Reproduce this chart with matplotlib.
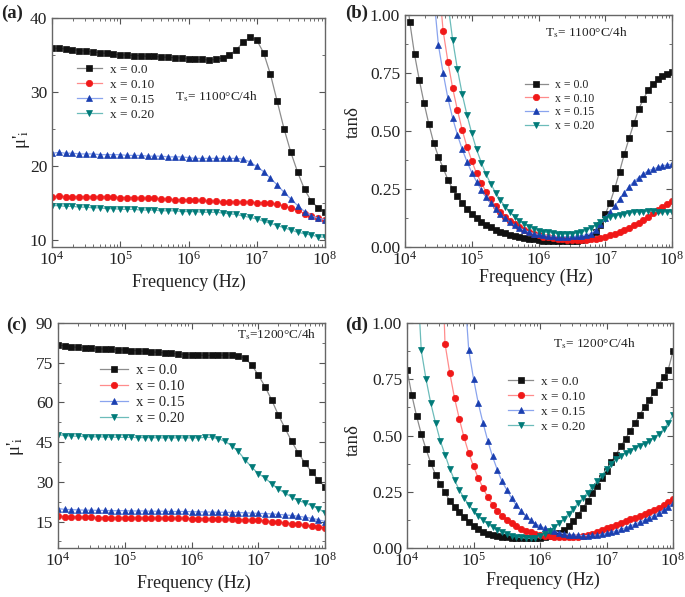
import numpy as np
import matplotlib
matplotlib.use("Agg")
import matplotlib.pyplot as plt
from matplotlib.ticker import AutoMinorLocator, LogLocator, NullFormatter

plt.rcParams['font.family'] = ['Liberation Serif', 'DejaVu Serif']
plt.rcParams['mathtext.fontset'] = 'stix'

# frequency sweeps (Hz): 10 points/decade for mu', 14 points/decade for tan(delta)
freq_mu = np.logspace(4, 8, 41)
freq_tan = np.logspace(4, 8, 57)

labels = ["x = 0.0", "x = 0.10", "x = 0.15", "x = 0.20"]

# (a) mu'_i, Ts = 1100 C / 4h
mu_1100_x00 = [35.9, 35.9, 35.8, 35.7, 35.6, 35.5, 35.4, 35.3, 35.2, 35.1,
               35.0, 35.0, 34.9, 34.9, 34.8, 34.8, 34.7, 34.7, 34.6, 34.6,
               34.5, 34.4, 34.4, 34.3, 34.4, 34.6, 35.0, 35.7, 36.7, 37.4,
               37.0, 35.3, 32.4, 28.7, 25.0, 21.8, 19.1, 16.8, 15.2, 14.3, 13.8]
mu_1100_x10 = [15.8, 15.9, 15.8, 15.8, 15.8, 15.8, 15.8, 15.8, 15.8, 15.8,
               15.7, 15.7, 15.7, 15.6, 15.6, 15.6, 15.5, 15.5, 15.4, 15.4,
               15.4, 15.3, 15.3, 15.2, 15.2, 15.1, 15.1, 15.1, 15.1, 15.1,
               15.0, 15.0, 14.9, 14.8, 14.6, 14.3, 14.0, 13.5, 13.2, 12.9, 12.7]
mu_1100_x15 = [21.7, 21.8, 21.7, 21.7, 21.6, 21.6, 21.6, 21.5, 21.5, 21.5,
               21.5, 21.4, 21.4, 21.4, 21.3, 21.3, 21.3, 21.2, 21.2, 21.2,
               21.1, 21.0, 21.0, 21.0, 21.0, 21.0, 21.0, 21.0, 20.9, 20.5,
               19.9, 19.2, 18.3, 17.4, 16.4, 15.5, 14.6, 13.8, 13.2, 12.9, 12.7]
mu_1100_x20 = [14.6, 14.6, 14.5, 14.5, 14.4, 14.4, 14.3, 14.3, 14.2, 14.2,
               14.1, 14.1, 14.1, 14.0, 14.0, 14.0, 13.9, 13.9, 13.9, 13.8,
               13.8, 13.8, 13.7, 13.7, 13.7, 13.6, 13.5, 13.4, 13.2, 13.0,
               12.8, 12.5, 12.2, 11.9, 11.6, 11.3, 11.0, 10.8, 10.6, 10.4, 10.3]

# (c) mu'_i, Ts = 1200 C / 4h
mu_1200_x00 = [81.8, 81.3, 81.0, 80.8, 80.6, 80.4, 80.3, 80.1, 80.0, 79.9,
               79.8, 79.6, 79.5, 79.3, 79.1, 78.9, 78.7, 78.5, 78.3, 78.1,
               78.0, 77.9, 77.8, 77.8, 77.8, 77.9, 77.9, 77.6, 76.7, 74.2,
               70.4, 66.0, 61.0, 55.3, 50.3, 45.3, 40.9, 37.1, 33.7, 30.8, 28.0]
mu_1200_x10 = [17.2, 16.9, 16.8, 16.7, 16.6, 16.6, 16.5, 16.5, 16.5, 16.4,
               16.4, 16.4, 16.4, 16.3, 16.3, 16.3, 16.3, 16.2, 16.2, 16.2,
               16.1, 16.1, 16.0, 16.0, 15.9, 15.9, 15.8, 15.7, 15.6, 15.5,
               15.4, 15.2, 15.0, 14.8, 14.5, 14.2, 13.9, 13.6, 13.3, 13.0, 12.6]
mu_1200_x15 = [19.9, 19.6, 19.5, 19.4, 19.3, 19.3, 19.2, 19.2, 19.1, 19.1,
               19.1, 19.0, 19.0, 19.0, 18.9, 18.9, 18.9, 18.8, 18.8, 18.8,
               18.7, 18.7, 18.6, 18.6, 18.5, 18.5, 18.4, 18.4, 18.3, 18.2,
               18.1, 18.0, 17.9, 17.7, 17.5, 17.3, 17.0, 16.6, 16.2, 15.7, 15.0]
mu_1200_x20 = [47.8, 47.5, 47.3, 47.2, 47.1, 47.0, 47.0, 46.9, 46.9, 46.8,
               46.8, 46.8, 46.7, 46.7, 46.7, 46.6, 46.6, 46.6, 46.6, 46.6,
               46.6, 46.6, 46.8, 46.8, 46.3, 45.3, 43.7, 41.5, 38.4, 35.6,
               33.1, 31.5, 29.3, 27.3, 25.8, 24.2, 22.9, 22.1, 21.0, 19.9, 18.3]

# (b) tan(delta), Ts = 1100 C / 4h  (values above 1 fall outside the axes)
tan_1100_x00 = [1.15,
                0.97, 0.83, 0.72, 0.62, 0.53, 0.45, 0.39, 0.34, 0.29, 0.25,
                0.22, 0.19, 0.164, 0.142, 0.123, 0.109, 0.095, 0.085, 0.073, 0.066,
                0.059, 0.052, 0.047, 0.043, 0.039, 0.036, 0.033,
                0.030, 0.028, 0.027, 0.026, 0.025, 0.025, 0.025, 0.026, 0.027, 0.030,
                0.035, 0.044, 0.066, 0.095, 0.142, 0.191, 0.253, 0.325, 0.401, 0.468,
                0.533, 0.594, 0.637, 0.677, 0.703, 0.723, 0.737, 0.746, 0.756]
tan_1100_x10 = [3.6, 3.1, 2.7, 2.3, 1.95, 1.65, 1.4, 1.16,
                0.931, 0.799, 0.684, 0.590, 0.504, 0.432, 0.372, 0.317, 0.277, 0.238,
                0.205, 0.177, 0.152, 0.131, 0.113, 0.099, 0.086, 0.075, 0.065, 0.057,
                0.050, 0.045, 0.041, 0.038, 0.035, 0.033, 0.031, 0.030, 0.030, 0.030,
                0.031, 0.033, 0.036, 0.040, 0.045, 0.050, 0.056, 0.063, 0.072, 0.082,
                0.093, 0.104, 0.117, 0.131, 0.145, 0.158, 0.171, 0.184, 0.197]
tan_1100_x15 = [3.0, 2.6, 2.2, 1.85, 1.55, 1.3, 1.09,
                0.871, 0.750, 0.641, 0.555, 0.483, 0.421, 0.368, 0.321, 0.282, 0.246,
                0.214, 0.188, 0.164, 0.142, 0.123, 0.106, 0.093, 0.082, 0.072, 0.064, 0.058,
                0.054, 0.051, 0.048, 0.046, 0.045, 0.045, 0.045, 0.046, 0.047, 0.049,
                0.052, 0.058, 0.073, 0.100, 0.125, 0.152, 0.177, 0.205, 0.234, 0.260,
                0.282, 0.299, 0.315, 0.328, 0.336, 0.343, 0.351, 0.353, 0.358]
tan_1100_x20 = [4.5, 3.9, 3.4, 2.9, 2.5, 2.1, 1.8, 1.5, 1.25, 1.05,
                0.892, 0.766, 0.659, 0.569, 0.490, 0.421, 0.364, 0.313, 0.272, 0.234,
                0.203, 0.174, 0.151, 0.131, 0.113, 0.099, 0.088, 0.078, 0.070,
                0.066, 0.063, 0.060, 0.058, 0.057, 0.057, 0.058, 0.060, 0.064, 0.072,
                0.082, 0.095, 0.108, 0.120, 0.128, 0.134, 0.139, 0.143, 0.146, 0.149,
                0.151, 0.153, 0.154, 0.154, 0.153, 0.152, 0.151, 0.150]

# (d) tan(delta), Ts = 1200 C / 4h
tan_1200_x00 = [0.793, 0.681, 0.588, 0.507, 0.440, 0.378, 0.326, 0.284, 0.247, 0.210,
                0.184, 0.159, 0.136, 0.114, 0.098, 0.084, 0.071,
                0.064, 0.058, 0.054, 0.051, 0.048, 0.046, 0.045, 0.044, 0.044, 0.044, 0.044,
                0.045, 0.048, 0.052, 0.058, 0.068, 0.080, 0.096, 0.119, 0.148, 0.178,
                0.210, 0.244, 0.274, 0.311, 0.344, 0.382, 0.415, 0.452, 0.486, 0.521,
                0.556, 0.593, 0.625, 0.659, 0.693, 0.726, 0.759, 0.793, 0.874]
tan_1200_x10 = [5.0, 4.3, 3.7, 3.2, 2.7, 2.3, 1.95, 1.55,
                0.908, 0.778, 0.667, 0.575, 0.492, 0.422, 0.363, 0.311, 0.267, 0.225,
                0.193, 0.166, 0.144, 0.126, 0.111, 0.096, 0.086, 0.077, 0.070, 0.064,
                0.058, 0.055, 0.052, 0.050, 0.049, 0.048, 0.048, 0.049, 0.051, 0.054,
                0.058, 0.064, 0.071, 0.079, 0.087, 0.095, 0.103, 0.111, 0.119, 0.127,
                0.135, 0.143, 0.152, 0.161, 0.170, 0.180, 0.192, 0.205, 0.220]
tan_1200_x15 = [6.0, 5.2, 4.5, 3.9, 3.4, 3.0, 2.6, 2.3, 2.0, 1.75, 1.55, 1.35, 1.18,
                0.879, 0.753, 0.644, 0.556, 0.477, 0.407, 0.348, 0.296, 0.259, 0.222,
                0.190, 0.166, 0.141, 0.123, 0.108,
                0.097, 0.088, 0.080, 0.074, 0.068, 0.064, 0.060, 0.058, 0.056, 0.055,
                0.055, 0.056, 0.058, 0.061, 0.065, 0.070, 0.076, 0.083, 0.090, 0.098,
                0.106, 0.115, 0.124, 0.134, 0.144, 0.156, 0.168, 0.182, 0.198]
tan_1200_x20 = [2.2, 1.7, 1.28,
                0.879, 0.751, 0.644, 0.556, 0.477, 0.415, 0.353, 0.301, 0.259, 0.222,
                0.193, 0.166, 0.144, 0.123, 0.108, 0.093, 0.081, 0.071, 0.062, 0.055,
                0.050, 0.047, 0.044, 0.043, 0.045,
                0.052, 0.062, 0.076, 0.092, 0.110, 0.130, 0.152, 0.175, 0.198, 0.222,
                0.246, 0.270, 0.296, 0.322, 0.350, 0.375, 0.395, 0.410, 0.422, 0.433,
                0.443, 0.453, 0.463, 0.475, 0.490, 0.507, 0.527, 0.555, 0.590]

# marker colour, line colour, marker
styles = [('#111111', '#8c8c8c', 's'),
          ('#f01818', '#ff8c8c', 'o'),
          ('#1a3fb0', '#8aa4ee', '^'),
          ('#007a78', '#6cbcba', 'v')]


def draw_panel(ax, freq, series, ylim, yticks, ylabel, label_xy, xlabel_xy,
               leg_xy, leg_size, leg_spacing):
    for vals, (mc, lc, mk) in zip(series, styles):
        ax.plot(freq, vals, color=lc, lw=0.9, marker=mk, ms=4.6,
                markerfacecolor=mc, markeredgecolor=mc, markeredgewidth=0.5)
    ax.set_xscale('log')
    ax.set_xlim(1e4, 1e8)
    ax.set_ylim(*ylim)
    ax.set_yticks(yticks)
    ax.yaxis.set_minor_locator(AutoMinorLocator(2))
    ax.xaxis.set_major_locator(LogLocator(base=10, numticks=10))
    ax.xaxis.set_minor_locator(LogLocator(base=10, subs=np.arange(2, 10), numticks=20))
    ax.xaxis.set_minor_formatter(NullFormatter())
    ax.tick_params(which='both', direction='in', top=True, right=True,
                   colors='#555555', labelcolor='#222222', labelsize=12.5)
    ax.tick_params(which='major', length=4.5, width=0.8)
    ax.tick_params(which='minor', length=2.5, width=0.6)
    ax.tick_params(axis='x', which='major', pad=3)
    for sp in ax.spines.values():
        sp.set_color('#666666')
        sp.set_linewidth(1.0)
    ax.set_xlabel('Frequency (Hz)', fontsize=13, color='#222222')
    ax.set_ylabel(ylabel, fontsize=13.5, color='#222222')
    ax.yaxis.set_label_coords(*label_xy)
    ax.xaxis.set_label_coords(*xlabel_xy)
    ax.legend(labels, loc='upper left', bbox_to_anchor=leg_xy, frameon=False,
              fontsize=leg_size, handlelength=1.9, handletextpad=0.6,
              labelspacing=leg_spacing, borderpad=0, borderaxespad=0,
              labelcolor='#222222')


fig = plt.figure(figsize=(6.85, 5.97), dpi=100)
W, H = 685.0, 597.0


def add_axes(left, top, right, bottom):
    return fig.add_axes([left / W, 1 - bottom / H, (right - left) / W, (bottom - top) / H])


mu_label = "μ'$_{\\mathrm{i}}$"
tan_label = "tanδ"

ax_a = add_axes(52, 18, 325, 247)
draw_panel(ax_a, freq_mu, [mu_1100_x00, mu_1100_x10, mu_1100_x15, mu_1100_x20],
           (9, 40), [10, 20, 30, 40], mu_label, (-0.075, 0.47), (0.5, -0.115),
           (0.09, 0.80), 9.5, 0.2)

ax_b = add_axes(405, 15, 672, 247)
draw_panel(ax_b, freq_tan, [tan_1100_x00, tan_1100_x10, tan_1100_x15, tan_1100_x20],
           (0, 1), [0, 0.25, 0.5, 0.75, 1.0], tan_label, (-0.16, 0.54), (0.49, -0.095),
           (0.45, 0.725), 8.5, 0.15)
ax_b.set_yticklabels(['0.00', '0.25', '0.50', '0.75', '1.00'])

ax_c = add_axes(58, 323, 325, 548)
draw_panel(ax_c, freq_mu, [mu_1200_x00, mu_1200_x10, mu_1200_x15, mu_1200_x20],
           (5, 90), [15, 30, 45, 60, 75, 90], mu_label, (-0.12, 0.45), (0.51, -0.12),
           (0.157, 0.82), 10.5, 0.2)

ax_d = add_axes(407, 323, 673, 548)
draw_panel(ax_d, freq_tan, [tan_1200_x00, tan_1200_x10, tan_1200_x15, tan_1200_x20],
           (0, 1), [0, 0.25, 0.5, 0.75, 1.0], tan_label, (-0.17, 0.48), (0.51, -0.105),
           (0.38, 0.765), 9.5, 0.2)
ax_d.set_yticklabels(['0.00', '0.25', '0.50', '0.75', '1.00'])

# sintering condition notes
fig.text(175 / W, 1 - 97 / H, r"T$_{\rm s}$= 1100°C/4h", fontsize=9.5, va='center', color='#222222')
fig.text(545 / W, 1 - 33 / H, r"T$_{\rm s}$= 1100°C/4h", fontsize=9.5, va='center', color='#222222')
fig.text(237 / W, 1 - 335 / H, r"T$_{\rm s}$=1200°C/4h", fontsize=9.5, va='center', color='#222222')
fig.text(553 / W, 1 - 344 / H, r"T$_{\rm s}$= 1200°C/4h", fontsize=9.5, va='center', color='#222222')

# panel letters
for txt, x, y in [('(a)', 1, 13), ('(b)', 345, 13), ('(c)', 6, 325), ('(d)', 345, 325)]:
    fig.text(x / W, 1 - y / H, txt, fontsize=13.5, fontweight='bold', va='center', color='#222222')

fig.savefig('out.png', dpi=100)
